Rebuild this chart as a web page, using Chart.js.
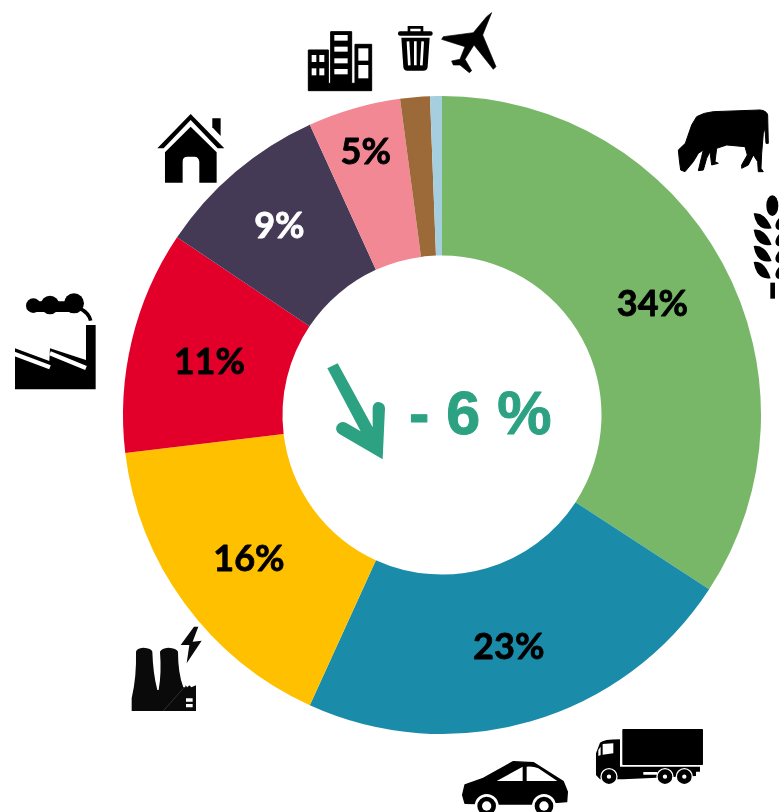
<!DOCTYPE html>
<html>
<head>
<meta charset="utf-8">
<style>
html,body{margin:0;padding:0;background:#fff;overflow:hidden;width:779px;height:812px}
#wrap{position:relative;width:779px;height:812px}
canvas{position:absolute;left:0;top:0}
svg{position:absolute;left:0;top:0;pointer-events:none}
</style>
<script src="https://cdn.jsdelivr.net/npm/chart.js@4"></script>
</head>
<body>
<div id="wrap">
<canvas id="c" width="779" height="812"></canvas>
<svg width="779" height="812" viewBox="0 0 779 812" xmlns="http://www.w3.org/2000/svg">
  <!-- cow -->
  <g transform="translate(660 100) scale(.3333)">
    <path fill="#000" stroke="#000" stroke-width="3" stroke-linejoin="round" d="M55,150 L76,130 L95,75 L110,50 Q130,38 160,35 L300,30 Q320,32 323,45 L325,130 L318,130 L315,85 L310,100 L305,160 L303,205 L310,215 L295,215 L293,185 L280,165 L265,195 L245,205 L245,195 L262,165 L255,140 L200,135 L170,145 L165,185 L175,190 L155,195 L150,155 L140,175 L130,210 L115,212 L125,170 L130,150 L115,160 L100,185 L75,215 L62,210 L58,180 Z"/>
  </g>
  <!-- wheat -->
  <g transform="translate(660 100) scale(.3333)" fill="#000">
    <ellipse cx="337" cy="317" rx="18" ry="31"/>
    <path d="M281,340 Q315,335 335,385 Q290,395 281,340 Z"/>
    <path d="M281,389 Q315,384 335,434 Q290,444 281,389 Z"/>
    <path d="M281,438 Q315,433 335,483 Q290,493 281,438 Z"/>
    <path d="M281,486 Q315,481 332,535 Q290,541 281,486 Z"/>
    <ellipse cx="374" cy="364" rx="33" ry="19" transform="rotate(-42 374 364)"/>
    <ellipse cx="374" cy="413" rx="33" ry="19" transform="rotate(-42 374 413)"/>
    <ellipse cx="374" cy="463" rx="33" ry="19" transform="rotate(-42 374 463)"/>
    <ellipse cx="374" cy="511" rx="33" ry="19" transform="rotate(-42 374 511)"/>
    <rect x="331" y="548" width="14" height="48"/>
  </g>
  <!-- factory with smoke -->
  <g transform="translate(0 100) scale(.3333)">
    <path fill="#000" d="M45,745 L148,783 L150,745 L258,780 L258,675 L287,675 L287,868 L45,868 Z"/>
    <path stroke="#fff" stroke-width="13" fill="none" d="M38,760 L150,802 M150,760 L258,804"/>
    <circle cx="100" cy="617" r="22" fill="#000"/>
    <circle cx="150" cy="615" r="28" fill="#000"/>
    <circle cx="222" cy="610" r="30" fill="#000"/>
    <path d="M105,620 L215,620" stroke="#000" stroke-width="32"/>
    <path d="M240,625 Q268,640 272,662" stroke="#000" stroke-width="11" fill="none"/>
  </g>
  <!-- house -->
  <g transform="translate(0 100) scale(.3333)" fill="#000">
    <path d="M572,42 L673,145 L653,145 L572,60 L491,145 L472,145 Z"/>
    <path d="M572,80 L650,157 L650,248 L598,248 L598,185 Q596,170 583,170 L562,170 Q548,170 548,185 L548,248 L495,248 L495,157 Z"/>
    <path d="M637,55 L662,55 L662,108 L637,82 Z"/>
  </g>
  <!-- offices -->
  <g transform="translate(290 0) scale(.3333)">
    <path fill="#000" stroke="#000" stroke-width="3" stroke-linejoin="round" d="M55,150 L115,150 L115,250 L122,250 L122,95 L185,95 L185,250 L195,250 L195,133 L245,133 L245,272 L55,272 Z"/>
    <g fill="#fff">
      <rect x="65" y="165" width="14" height="21"/><rect x="88" y="165" width="15" height="21"/>
      <rect x="65" y="205" width="14" height="21"/><rect x="88" y="205" width="15" height="21"/>
      <rect x="133" y="105" width="40" height="17"/><rect x="133" y="140" width="40" height="15"/>
      <rect x="133" y="175" width="40" height="15"/><rect x="133" y="207" width="40" height="16"/>
      <rect x="205" y="145" width="30" height="37"/><rect x="205" y="195" width="30" height="40"/>
    </g>
  </g>
  <!-- bin -->
  <g transform="translate(290 0) scale(.3333)">
    <path fill="none" stroke="#000" stroke-width="8" d="M357,97 L357,82 L396,82 L396,97"/>
    <rect x="324" y="94" width="104" height="13" rx="6" fill="#000"/>
    <path fill="#000" d="M334,113 L419,113 L413,200 Q412,212 400,212 L352,212 Q341,212 340,200 Z"/>
    <path stroke="#fff" stroke-width="8" fill="none" d="M354,124 L358,196 M376,124 L376,196 M398,124 L394,196"/>
  </g>
  <!-- plane -->
  <g transform="translate(290 0) scale(.3333)">
    <path fill="#000" stroke="#000" stroke-width="2" stroke-linejoin="round" d="M605,38 L578,105 L618,200 L610,208 L552,135 L525,178 L545,212 L538,218 L510,195 L490,195 L485,183 L510,178 L525,140 L455,118 L460,110 L550,98 L590,50 Z"/>
  </g>
  <!-- power plant -->
  <g transform="translate(120 610) scale(.3333)">
    <path fill="#0a0a0a" d="M35,303 L35,265 Q50,200 48,125 Q50,115 70,113 Q95,115 97,125 Q99,190 112,240 L116,240 Q125,190 120,125 Q125,115 145,113 Q170,115 174,125 Q174,190 190,232 L196,232 L196,226 L202,232 L208,226 L214,232 L228,226 L228,303 Z"/>
    <path d="M198,265 H218 V275 H198 Z M198,282 H218 V292 H198 Z" fill="#fff"/>
    <path d="M130,303 L190,235" stroke="#444" stroke-width="2" fill="none"/>
    <path fill="#0a0a0a" d="M222,50 L182,105 L208,105 L200,160 L245,92 L218,95 L235,50 Z"/>
  </g>
  <!-- car -->
  <g transform="translate(450 720) scale(.3333)">
    <path fill="#000" stroke="#000" stroke-width="4" stroke-linejoin="round" d="M38,225 L45,195 L100,175 L190,125 L250,128 L340,185 L352,215 L350,245 L250,252 L140,252 L45,250 Z"/>
    <path fill="#fff" d="M140,183 L218,140 L218,183 Z M230,140 Q250,138 265,145 L322,183 L230,183 Z"/>
    <g fill="#000" stroke="#fff" stroke-width="8">
      <circle cx="110" cy="258" r="32"/>
      <circle cx="282" cy="258" r="32"/>
    </g>
    <circle cx="110" cy="258" r="14" fill="#fff"/>
    <circle cx="282" cy="258" r="14" fill="#fff"/>
  </g>
  <!-- truck -->
  <g transform="translate(450 720) scale(.3333)">
    <rect x="517" y="27" width="242" height="108" rx="2" fill="#000"/>
    <path fill="#000" d="M438,165 L438,100 L450,68 Q460,58 510,58 L510,140 L750,140 L750,155 L738,155 L738,168 L520,178 L450,178 Z"/>
    <path fill="#fff" d="M458,72 L490,70 L490,100 L458,104 Z M445,90 L452,80 L452,105 L445,108 Z M580,156 H622 V164 H580 Z"/>
    <g fill="#000" stroke="#fff" stroke-width="4">
      <circle cx="477" cy="170" r="24"/>
      <circle cx="645" cy="170" r="24"/>
      <circle cx="703" cy="170" r="24"/>
    </g>
    <g fill="#fff" stroke="#000" stroke-width="5">
      <circle cx="477" cy="170" r="9"/>
      <circle cx="645" cy="170" r="9"/>
      <circle cx="703" cy="170" r="9"/>
    </g>
  </g>
  <!-- trend arrow -->
  <g transform="translate(310 340) scale(.3333)">
    <path fill="#2CA283" d="M52,85 L83,70 L188,262 L188,203 Q190,186 206,186 Q224,188 225,205 L218,358 L88,282 Q74,272 80,258 Q90,242 108,248 L152,274 Z"/>
  </g>
</svg>
</div>
<script>
const categories = ['Agriculture', 'Transports', 'Energie', 'Industrie', 'Residentiel', 'Tertiaire', 'Dechets', 'Aerien'];
const shares = [34.2, 22.6, 16.3, 11.3, 8.8, 4.7, 1.5, 0.6];
const sliceLabels = ['34%', '23%', '16%', '11%', '9%', '5%', '', ''];
const sliceColors = ['#77B767', '#1A8CAA', '#FFC000', '#E2002B', '#453A56', '#F28894', '#9C6A38', '#A5CFDF'];
const labelColors = ['#000', '#000', '#000', '#000', '#fff', '#000', '#000', '#000'];
const centerText = '- 6 %';

const overlay = {
  id: 'overlay',
  afterDatasetsDraw(chart) {
    const ctx = chart.ctx;
    const meta = chart.getDatasetMeta(0);
    const radialShift = { 4: 12, 5: 37 };
    ctx.save();
    ctx.textAlign = 'center';
    ctx.textBaseline = 'middle';
    ctx.font = 'bold 36px Lato, sans-serif';
    ctx.lineWidth = 0.8;
    ctx.lineJoin = 'round';
    meta.data.forEach((arc, i) => {
      if (!sliceLabels[i]) return;
      const p = arc.tooltipPosition();
      const mid = (arc.startAngle + arc.endAngle) / 2;
      const s = radialShift[i] || 0;
      const x = p.x + Math.cos(mid) * s;
      const y = p.y + Math.sin(mid) * s + 3;
      ctx.fillStyle = labelColors[i];
      ctx.strokeStyle = labelColors[i];
      ctx.fillText(sliceLabels[i], x, y);
      ctx.strokeText(sliceLabels[i], x, y);
    });
    ctx.fillStyle = '#2CA283';
    ctx.strokeStyle = '#2CA283';
    ctx.lineWidth = 1;
    ctx.font = 'bold 61px "Liberation Sans"';
    ctx.textAlign = 'left';
    ctx.fillText(centerText, 409, 417);
    ctx.strokeText(centerText, 409, 417);
    ctx.restore();
  }
};

new Chart(document.getElementById('c'), {
  type: 'doughnut',
  data: {
    labels: categories,
    datasets: [{
      data: shares,
      backgroundColor: sliceColors,
      borderWidth: 0
    }]
  },
  options: {
    responsive: false,
    animation: false,
    cutout: '50%',
    layout: { padding: { left: 123, right: 18, top: 96, bottom: 78 } },
    plugins: { legend: { display: false }, tooltip: { enabled: false } }
  },
  plugins: [overlay]
});
</script>
</body>
</html>
